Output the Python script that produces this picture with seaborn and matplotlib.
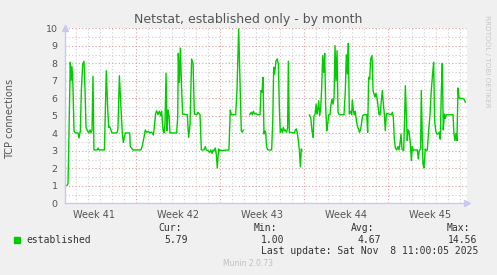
import numpy as np
import pandas as pd
import matplotlib
matplotlib.use("Agg")
import matplotlib.pyplot as plt
from matplotlib.patches import Rectangle
import seaborn as sns

# ---- data: days since the start of Week 41; NaN marks gaps without data ----
days = [
    1.27, 1.36, 1.55, 1.61, 1.69, 1.77, 1.86, 1.97, 2.19, 2.27, 2.39, 2.47, 2.58, 2.69, 2.77,
    2.86, 2.97, 3.08, 3.19, 3.28, 3.36, 3.44, 3.52, 3.80, 3.86, 3.94, 4.39, 4.55, 4.66, 4.75,
    4.83, 4.94, 5.02, 5.44, 5.52, 5.64, 5.77, 5.89, 5.97, 6.05, 6.14, 6.50, 6.55, 6.66, 6.75,
    7.44, 7.55, 7.69, 7.80, 7.91, 8.05, 8.19, 8.33, 8.47, 8.55, 8.66, 8.75, 8.86, 8.97, 9.08,
    9.16, 9.28, 9.36, 9.44, 9.53, 9.61, 9.69, 9.78, 9.86, 10.41, 10.50, 10.55, 10.64, 10.72, 10.83,
    10.91, 11.30, 11.41, 11.53, 11.66, 11.78, 11.89, 12.08, 12.19, 12.36, 12.47, 12.69, 12.80, 12.88, 13.02,
    13.16, 13.25, 13.36, 13.44, 13.52, 13.63, 13.72, 13.80, 13.91, 13.99, 14.77, 14.88, 14.97, 15.33, 15.44,
    15.58, 15.69, 15.80, 15.88, 15.97,
    16.20,
    16.49, 16.63, 16.72, 16.80, 16.91, 17.02, 17.13, 17.36, 17.44, 17.52, 17.61, 17.69, 17.75, 17.83, 17.91,
    18.02, 18.33, 18.42, 18.50, 18.58, 18.69, 18.80, 18.89, 18.97, 19.05, 19.14, 19.22, 19.30, 19.39, 19.47,
    19.58, 19.66, 19.72, 19.80, 20.22, 20.30, 20.39, 20.50, 20.58, 20.64, 20.72, 20.80, 20.86,
    21.15,
    21.47, 21.58, 21.69, 21.78, 21.86, 21.94, 22.03, 22.11, 22.16, 22.25, 22.33, 22.42, 22.50, 22.58, 22.67,
    22.75, 22.83, 22.92, 23.00, 23.08, 23.19, 23.28, 23.36, 23.44, 23.53, 23.61, 23.69, 23.78, 23.86, 23.97,
    24.36, 24.47, 24.55, 24.64, 24.72, 24.80, 24.91, 25.00, 25.05, 25.14, 25.22, 25.30, 25.39, 25.47, 25.58,
    25.66, 25.75, 25.83, 25.91, 26.00, 26.25, 26.33, 26.41, 26.50, 26.58, 26.69, 26.78, 26.86, 26.94, 27.02,
    27.11, 27.19, 27.28, 27.36, 27.44, 27.55, 27.64, 27.72, 27.80, 27.89, 28.30, 28.39, 28.47, 28.55, 28.64,
    28.75, 28.86, 28.94, 29.02, 29.11, 29.19, 29.33, 29.41, 29.47, 29.55, 29.63, 29.69, 29.77, 29.88, 29.97,
    30.05, 30.13, 30.22, 30.38, 30.47, 30.55, 30.63, 30.74, 30.80, 30.88, 30.94, 31.02, 31.08, 31.13, 31.22,
    31.30, 31.41, 31.52, 31.63, 31.75, 31.83, 31.91, 32.00, 32.08, 32.19, 32.30, 32.38, 32.47, 32.55, 32.63,
    32.72, 32.80, 32.88, 33.44, 33.52, 33.61, 33.69, 33.77, 33.86, 33.94, 34.36, 34.47,
]
connections = [
    1.01, 1.14, 8.06, 7.01, 7.81, 6.72, 4.11, 4.02, 4.02, 3.73, 4.15, 6.44, 7.96, 8.11, 6.63,
    4.34, 4.15, 4.02, 4.19, 4.02, 4.19, 7.26, 3.05, 3.05, 3.16, 3.05, 3.05, 7.58, 5.48, 4.34,
    4.38, 4.19, 4.02, 4.02, 4.25, 7.29, 5.48, 3.96, 3.48, 3.77, 4.02, 4.02, 3.24, 3.16, 3.05,
    3.05, 3.29, 3.77, 4.19, 4.06, 4.11, 4.02, 4.07, 3.90, 4.34, 5.14, 5.29, 5.06, 5.26, 5.01,
    5.26, 4.15, 4.02, 4.53, 7.43, 4.15, 5.33, 5.01, 4.02, 4.02, 4.91, 8.57, 6.91, 8.87, 6.44,
    5.10, 5.06, 3.77, 4.53, 8.25, 7.96, 5.10, 5.06, 5.20, 5.06, 3.05, 3.05, 3.24, 3.05, 3.01,
    2.91, 3.05, 2.85, 3.05, 2.98, 3.16, 2.78, 2.02, 3.10, 3.01, 3.05, 5.33, 5.06, 5.06, 6.44,
    9.96, 7.01, 4.15, 4.06, 4.19,
    np.nan,
    5.06, 5.20, 5.06, 5.26, 5.10, 5.14, 5.06, 5.06, 6.44, 6.34, 7.20, 3.96, 4.15, 4.06, 3.20,
    3.05, 3.05, 4.72, 7.77, 7.39, 8.15, 8.25, 7.92, 5.48, 4.06, 4.25, 4.06, 4.34, 4.15, 4.19,
    4.06, 4.34, 8.11, 4.06, 4.02, 4.19, 4.25, 3.87, 3.39, 3.05, 2.09, 3.10, 3.01,
    np.nan,
    5.06, 4.91, 4.15, 3.77, 5.01, 5.06, 5.67, 5.10, 5.29, 5.86, 5.01, 5.48, 6.63, 8.44, 7.48,
    8.57, 5.48, 4.15, 4.53, 5.06, 5.06, 5.67, 5.96, 5.67, 6.04, 9.01, 7.01, 8.72, 5.20, 5.06,
    5.06, 6.44, 8.49, 7.39, 9.14, 5.10, 5.26, 5.06, 5.90, 5.29, 5.06, 5.26, 4.72, 4.43, 4.19,
    4.06, 4.25, 4.63, 5.01, 5.06, 5.06, 4.06, 7.20, 7.10, 8.25, 8.44, 6.44, 6.25, 6.06, 6.29,
    6.02, 5.58, 5.06, 5.06, 5.67, 6.44, 5.67, 5.10, 4.15, 5.14, 5.06, 5.20, 4.91, 3.67, 3.16,
    3.05, 3.24, 3.05, 3.39, 3.96, 3.10, 3.01, 4.91, 6.72, 5.10, 3.58, 4.19, 4.15, 3.48, 2.44,
    3.24, 3.01, 3.05, 3.05, 3.05, 2.53, 3.01, 3.10, 6.44, 3.77, 2.25, 2.02, 2.63, 3.10, 3.01,
    3.05, 4.15, 5.01, 6.44, 7.48, 8.06, 4.72, 4.15, 3.96, 3.96, 4.06, 3.67, 6.44, 8.00, 4.19,
    5.10, 4.85, 5.06, 5.06, 3.96, 3.58, 4.00, 3.58, 6.59, 6.02, 5.96, 5.77,
]
week_labels = ["Week 41", "Week 42", "Week 43", "Week 44", "Week 45"]
week_centers = [3.5, 10.5, 17.5, 24.5, 31.5]
y_ticks = list(range(0, 11))
series_name = "established"
stat_names = ["Cur:", "Min:", "Avg:", "Max:"]
stat_values = ["5.79", "1.00", "4.67", "14.56"]
last_update = "Last update: Sat Nov  8 11:00:05 2025"
title = "Netstat, established only - by month"
y_title = "TCP connections"
footer = "Munin 2.0.73"
side_text = "RRDTOOL / TOBI OETIKER"

# ---- styling ----
sns.set_theme(style="white")
plt.rcParams['font.family'] = ['DejaVu Sans']

W, H = 497, 275
BG = '#F0F0F0'
LINE = '#00CC00'
MGRID = '#DDA0A0'
GRID = '#CFCFCF'
AXIS = '#C8C8F0'
TXT = '#555555'

fig = plt.figure(figsize=(W / 100, H / 100), dpi=100, facecolor=BG)
ax = fig.add_axes([65.3 / W, 1 - 203.3 / H, 402 / W, 175 / H])
ax.set_facecolor('white')

df = pd.DataFrame({'day': days, 'conn': connections})
df['segment'] = df['conn'].isna().cumsum()
df = df.dropna()

# grid
for d in range(2, 35):
    ax.axvline(d, color=MGRID if d % 7 == 0 else GRID, lw=0.8, ls=(0, (1, 2)), zorder=1)
for k in range(1, 21):
    yv = k / 2
    ax.axhline(yv, color=MGRID if k % 2 == 0 else GRID, lw=0.8, ls=(0, (1, 2)), zorder=1)

sns.lineplot(data=df, x='day', y='conn', units='segment', estimator=None,
             color=LINE, linewidth=1.0, ax=ax, zorder=3, legend=False)

ax.set_xlim(1.133, 34.633)
ax.set_ylim(0, 10)
ax.set_xlabel('')
ax.set_ylabel('')

for s in ['top', 'right']:
    ax.spines[s].set_visible(False)
for s in ['left', 'bottom']:
    ax.spines[s].set_color(AXIS)
    ax.spines[s].set_linewidth(1.0)

ax.set_yticks(y_ticks)
ax.set_yticklabels([str(v) for v in y_ticks])
ax.tick_params(axis='y', length=2.5, width=0.8, color=MGRID, pad=3,
               labelsize=6.8, labelcolor=TXT)
ax.set_xticks(week_centers)
ax.set_xticklabels(week_labels)
ax.tick_params(axis='x', which='major', length=0, pad=4.5, labelsize=7, labelcolor=TXT)
ax.set_xticks(list(range(2, 35)), minor=True)
ax.tick_params(axis='x', which='minor', length=2, width=0.8, color=GRID)

# axis arrows
ax.plot([1.0], [0.0], marker='>', markersize=4, color=AXIS, transform=ax.transAxes,
        clip_on=False, zorder=5)
ax.plot([0.0], [1.0], marker='^', markersize=4, color=AXIS, transform=ax.transAxes,
        clip_on=False, zorder=5)

# texts
fig.text(248.5 / W, 1 - 19 / H, title, ha='center', va='center', fontsize=9, color=TXT)
fig.text(10.5 / W, 1 - 119 / H, y_title, ha='center', va='center', rotation=90,
         fontsize=7, color=TXT)
fig.text(487 / W, 1 - 15 / H, side_text, ha='center', va='top', rotation=270,
         fontsize=5.2, color='#C8C8C8')

mono = dict(family='DejaVu Sans Mono', fontsize=7, color='#333333', va='baseline')
fig.patches.append(Rectangle((14 / W, 1 - 242.5 / H), 6 / W, 6 / H, color=LINE,
                             transform=fig.transFigure, figure=fig))
fig.text(26 / W, 1 - 243 / H, series_name, **mono)
name_x = [158, 254, 351, 447]
value_x = [164, 261, 358, 448]
for nm, val, nx, vx in zip(stat_names, stat_values, name_x, value_x):
    fig.text(nx / W, 1 - 231 / H, nm, **mono)
    fig.text(vx / W, 1 - 243 / H, val, **mono)
fig.text(261 / W, 1 - 254.5 / H, last_update, **mono)
fig.text(223 / W, 1 - 266.5 / H, footer, ha='left', va='baseline', fontsize=5.5,
         color='#C0C0C0')

fig.savefig('out.png', dpi=100, facecolor=BG)
